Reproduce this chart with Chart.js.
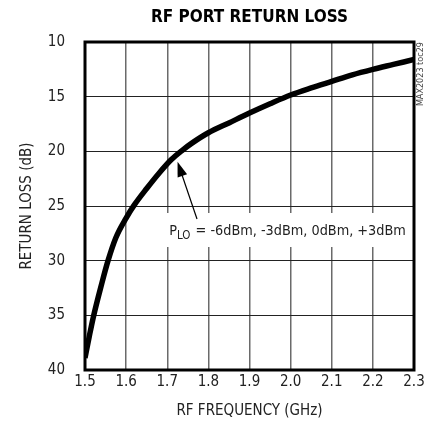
<!DOCTYPE html>
<html>
<head>
<meta charset="utf-8">
<script src="https://cdn.jsdelivr.net/npm/chart.js@4"></script>
<style>
  html, body { margin: 0; padding: 0; background: #fff; }
  #wrap { width: 424px; height: 434px; }
</style>
</head>
<body>
<div id="wrap"><canvas id="rlChart" width="424" height="434"></canvas></div>
<script>
// data
const freqGHz = [1.50, 1.51, 1.52, 1.54, 1.556, 1.575, 1.60, 1.62, 1.65, 1.68, 1.71, 1.735, 1.76, 1.80, 1.85, 1.90, 1.95, 2.00, 2.05, 2.10, 2.15, 2.20, 2.25, 2.30];
const returnLoss = [38.9, 37.0, 35.2, 32.2, 30.0, 27.9, 26.1, 24.9, 23.4, 22.0, 20.75, 19.95, 19.25, 18.3, 17.4, 16.5, 15.65, 14.85, 14.2, 13.6, 13.0, 12.5, 12.05, 11.6];
const xTicks = [1.5, 1.6, 1.7, 1.8, 1.9, 2.0, 2.1, 2.2, 2.3];
const yTicks = [10, 15, 20, 25, 30, 35, 40];

const FONT = "'Liberation Sans Narrow', 'DejaVu Sans Condensed', 'Liberation Sans', sans-serif";

let points = freqGHz.map((f, i) => ({ x: f, y: returnLoss[i] }));

//==========================================================================
// title, frame, note, arrow, side tag
const extras = {
  id: "extras",
  beforeDatasetsDraw(chart) {
    const ctx = chart.ctx;
    const xs = chart.scales.x;
    // white box behind the note
    ctx.save();
    ctx.fillStyle = "#fff";
    ctx.fillRect(xs.getPixelForValue(1.7) - 3, 213, 244, 34);
    ctx.restore();
  },
  afterDraw(chart) {
    const ctx = chart.ctx;
    const a = chart.chartArea;
    const xs = chart.scales.x;
    const ys = chart.scales.y;
    ctx.save();

    // title
    ctx.fillStyle = "#000";
    ctx.textAlign = "center";
    ctx.textBaseline = "middle";
    ctx.font = "bold 17px " + FONT;
    ctx.fillText("RF PORT RETURN LOSS", (a.left + a.right) / 2, 18);

    ctx.strokeStyle = "#000";
    ctx.lineWidth = 3;
    ctx.strokeRect(a.left, a.top, a.right - a.left, a.bottom - a.top);

    // note text
    let tx = xs.getPixelForValue(1.7) + 2;
    let ty = 235;
    ctx.fillStyle = "#222";
    ctx.textBaseline = "alphabetic";
    ctx.textAlign = "left";
    ctx.font = "14.3px " + FONT;
    ctx.fillText("P", tx, ty);
    tx += ctx.measureText("P").width;
    ctx.font = "11.5px " + FONT;
    ctx.fillText("LO", tx, ty + 4);
    tx += ctx.measureText("LO").width + 1;
    ctx.font = "14.3px " + FONT;
    ctx.fillText(" = -6dBm, -3dBm, 0dBm, +3dBm", tx, ty);

    // arrow
    const tipX = xs.getPixelForValue(1.725);
    const tipY = ys.getPixelForValue(20.95);
    const endX = 197, endY = 219;
    const ang = Math.atan2(tipY - endY, tipX - endX);
    ctx.strokeStyle = "#000";
    ctx.lineWidth = 1.2;
    ctx.beginPath();
    ctx.moveTo(endX, endY);
    ctx.lineTo(tipX - Math.cos(ang) * 10, tipY - Math.sin(ang) * 10);
    ctx.stroke();
    ctx.beginPath();
    ctx.moveTo(tipX, tipY);
    ctx.lineTo(tipX - Math.cos(ang) * 15 + Math.sin(ang) * 5, tipY - Math.sin(ang) * 15 - Math.cos(ang) * 5);
    ctx.lineTo(tipX - Math.cos(ang) * 15 - Math.sin(ang) * 5, tipY - Math.sin(ang) * 15 + Math.cos(ang) * 5);
    ctx.closePath();
    ctx.fillStyle = "#000";
    ctx.fill();

    // side tag
    ctx.translate(a.right + 7, a.top);
    ctx.rotate(-Math.PI / 2);
    ctx.font = "9px " + FONT;
    ctx.fillStyle = "#444";
    ctx.textAlign = "right";
    ctx.textBaseline = "middle";
    ctx.fillText("MAX2023 toc29", 0, 0);
    ctx.restore();
  },
};

//==========================================================================
// chart
const config = {
  type: "line",
  data: {
    datasets: [
      {
        label: "RL",
        data: points,
        borderColor: "#000",
        borderWidth: 5.5,
        pointRadius: 0,
        cubicInterpolationMode: "monotone",
        fill: false,
      },
    ],
  },
  options: {
    responsive: false,
    animation: false,
    layout: {
      padding: { top: 42, right: 10, bottom: 0, left: 0 },
    },
    scales: {
      x: {
        type: "linear",
        min: 1.5,
        max: 2.3,
        afterBuildTicks: (s) => {
          s.ticks = xTicks.map((v) => ({ value: v }));
        },
        afterFit: (s) => {
          s.height = 64;
          s.paddingLeft = 0;
          s.paddingRight = 0;
        },
        ticks: {
          padding: 3,
          color: "#222",
          font: { family: FONT, size: 15 },
          callback: (v) => v.toFixed(1),
        },
        grid: { color: "#6a6a6a", lineWidth: 1.5, drawTicks: false },
        border: { display: false },
        title: {
          display: true,
          text: "RF FREQUENCY (GHz)",
          color: "#222",
          font: { family: FONT, size: 15 },
          padding: { top: 4, bottom: 14 },
        },
      },
      y: {
        type: "linear",
        reverse: true,
        min: 10,
        max: 40,
        afterBuildTicks: (s) => {
          s.ticks = yTicks.map((v) => ({ value: v }));
        },
        afterFit: (s) => {
          s.width = 85;
        },
        ticks: {
          padding: 20,
          color: "#222",
          font: { family: FONT, size: 15 },
        },
        grid: { color: "#222", lineWidth: 1, drawTicks: false },
        border: { display: false },
        title: {
          display: true,
          text: "RETURN LOSS (dB)",
          color: "#222",
          font: { family: FONT, size: 15 },
          padding: { top: 18, bottom: 0 },
        },
      },
    },
    plugins: {
      legend: { display: false },
      tooltip: { enabled: false },
      title: { display: false },
    },
  },
  plugins: [extras],
};

const rlChart = new Chart(document.getElementById("rlChart"), config);
</script>
</body>
</html>
